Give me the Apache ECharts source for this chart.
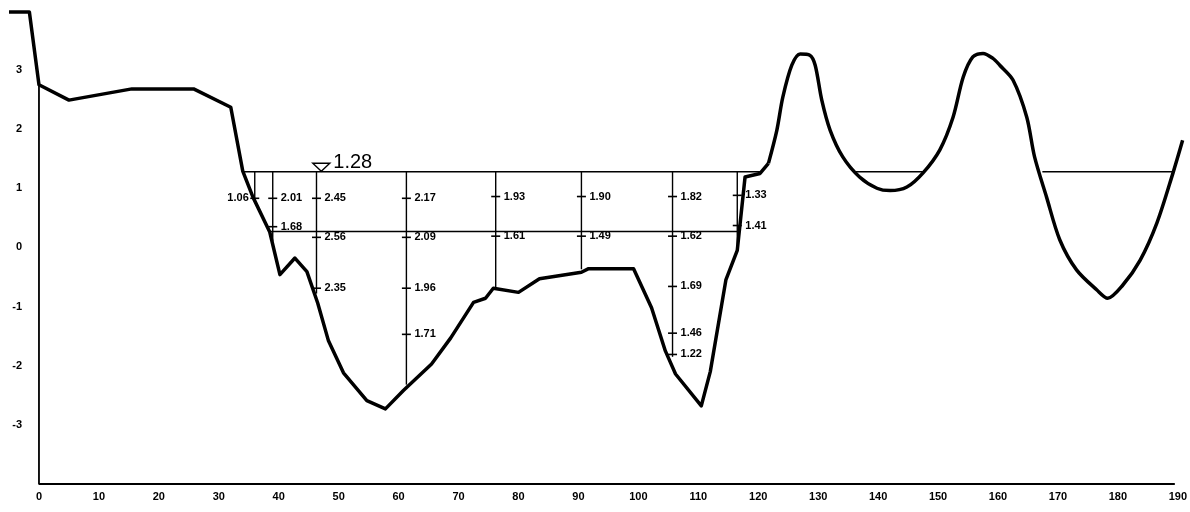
<!DOCTYPE html>
<html><head><meta charset="utf-8">
<script src="https://cdn.jsdelivr.net/npm/echarts@6/dist/echarts.min.js"></script>
<style>html,body{margin:0;padding:0;background:#fff}#c{width:1190px;height:512px}</style>
</head><body><div id="c"></div>
<script>
// ---- data ----
const xTickValues = [0,10,20,30,40,50,60,70,80,90,100,110,120,130,140,150,160,170,180,190];
const yTickValues = [-3,-2,-1,0,1,2,3];

// ground profile, straight-segment part (offset, elevation)
const profileLeft = [
  [-5,3.98],[-1.6,3.98],[0,2.75],[5,2.49],[15.5,2.68],[25.8,2.68],[32,2.37],
  [34,1.29],[35.7,0.85],[38.5,0.26],[40.2,-0.46],[42.7,-0.18],[44.7,-0.41],[46.5,-0.94],
  [48.3,-1.58],[50.8,-2.12],[54.7,-2.59],[57.8,-2.73],[60.8,-2.42],[65.5,-1.97],
  [68.7,-1.53],[72.5,-0.93],[74.5,-0.86],[75.8,-0.69],[80,-0.76],[83.5,-0.53],
  [90.5,-0.42],[91.7,-0.36],[99.2,-0.36],[102.2,-1.02],[104.5,-1.75],[106.2,-2.14],
  [110.5,-2.68],[112,-2.1],[114.6,-0.55],[116.5,-0.05],[117.8,1.19],[120.3,1.25],
  [121.7,1.42]
];
// ground profile, curved part
const profileRight = [
  [121.7,1.42],[123.1,1.98],[124.1,2.54],[125.6,3.08],[127,3.27],[128.6,3.25],[129.5,3.08],
  [130.6,2.49],[132,1.98],[134.1,1.53],[136.9,1.19],[139.8,1.0],[142,0.96],[144.8,1.02],
  [147.5,1.26],[150.3,1.65],[152.5,2.2],[154.2,2.88],[155.8,3.22],[157.5,3.28],[159.1,3.2],
  [160.3,3.08],[162.5,2.83],[164.8,2.2],[166.1,1.53],[168.1,0.85],[170.3,0.13],[173.1,-0.38],
  [176.5,-0.72],[178.3,-0.86],[180.8,-0.64],[183.7,-0.22],[186.5,0.41],[189.2,1.26],[190.8,1.81]
];

const waterLevel = 1.28;
const waterSegments = [[34.0,120.3],[136.3,147.7],[167.4,189.2]];
const lowerLineY = 0.27;
const lowerLineRange = [38.5,116.5];

const verticalX      = [36.0, 39.0, 46.3, 61.3, 76.2, 90.5, 105.7, 116.5];
const verticalBottom = [0.80, 0.10, -0.78, -2.32, -0.67, -0.37, -1.85, 0.0];

// velocity readings: [vertical index, elevation, text]
const velocityPoints = [
  [0,0.83,'1.06'],
  [1,0.83,'2.01'],[1,0.35,'1.68'],
  [2,0.83,'2.45'],[2,0.17,'2.56'],[2,-0.69,'2.35'],
  [3,0.83,'2.17'],[3,0.17,'2.09'],[3,-0.69,'1.96'],[3,-1.47,'1.71'],
  [4,0.86,'1.93'],[4,0.19,'1.61'],
  [5,0.86,'1.90'],[5,0.19,'1.49'],
  [6,0.86,'1.82'],[6,0.19,'1.62'],[6,-0.66,'1.69'],[6,-1.45,'1.46'],[6,-1.81,'1.22'],
  [7,0.88,'1.33'],[7,0.37,'1.41']
];
const markerX = 47.1;
const markerText = '1.28';
const frameLine = [[0,2.75],[0,-4],[189.5,-4]];

// ---- build ----
const segData = [];
waterSegments.forEach(s => segData.push([s[0], waterLevel, s[1], waterLevel]));
segData.push([lowerLineRange[0], lowerLineY, lowerLineRange[1], lowerLineY]);
verticalX.forEach((x, i) => segData.push([x, waterLevel, x, verticalBottom[i]]));

const tickData = velocityPoints.map(p => [verticalX[p[0]], p[1]]);

const chart = echarts.init(document.getElementById('c'), null, {renderer:'canvas'});
const smallFont = {fontFamily:'Liberation Sans', fontSize:11, fontWeight:'bold'};

chart.setOption({
  animation:false,
  backgroundColor:'#fff',
  grid:{left:9, right:6, top:10.8, bottom:28, containLabel:false},
  xAxis:{type:'value', min:-5, max:191,
    axisLine:{show:false}, axisTick:{show:false}, splitLine:{show:false},
    axisLabel:{customValues:xTickValues, color:'#000', margin:7, ...smallFont}},
  yAxis:{type:'value', min:-4, max:4, offset:-17,
    axisLine:{show:false}, axisTick:{show:false}, splitLine:{show:false},
    axisLabel:{customValues:yTickValues, color:'#000', margin:4, ...smallFont}},
  series:[
    {type:'line', data:frameLine, symbol:'none', lineStyle:{color:'#000', width:1.8}, z:2},
    {type:'custom', data:segData, z:3,
      renderItem:(params, api) => {
        const a = api.coord([api.value(0), api.value(1)]);
        const b = api.coord([api.value(2), api.value(3)]);
        return {type:'line', shape:{x1:a[0],y1:a[1],x2:b[0],y2:b[1]},
                style:{stroke:'#000', lineWidth:1.4}};
      }},
    {type:'custom', data:tickData, z:4,
      renderItem:(params, api) => {
        const p = api.coord([api.value(0), api.value(1)]);
        const item = velocityPoints[params.dataIndex];
        const left = item[0] === 0;
        return {type:'group', children:[
          {type:'line', shape:{x1:p[0]-4.5, y1:p[1], x2:p[0]+4.5, y2:p[1]},
           style:{stroke:'#000', lineWidth:1.6}},
          {type:'text', x: left ? p[0]-6 : p[0]+8, y:p[1],
           style:{text:item[2], fill:'#000', align:left?'right':'left', verticalAlign:'middle',
                  font:'bold 11px "Liberation Sans"'}}
        ]};
      }},
    {type:'custom', data:[[markerX, waterLevel]], z:5,
      renderItem:(params, api) => {
        const p = api.coord([api.value(0), api.value(1)]);
        return {type:'group', children:[
          {type:'polygon', shape:{points:[[p[0],p[1]-0.5],[p[0]-8.5,p[1]-8.5],[p[0]+8.5,p[1]-8.5]]},
           style:{fill:'#fff', stroke:'#000', lineWidth:1.4}},
          {type:'text', x:p[0]+12, y:p[1]+1,
           style:{text:markerText, fill:'#000', align:'left', verticalAlign:'bottom',
                  font:'20px "Liberation Sans"'}}
        ]};
      }},
    {type:'line', data:profileLeft, symbol:'none', smooth:false,
      lineStyle:{color:'#000', width:3.5, join:'round'}, z:6},
    {type:'line', data:profileRight, symbol:'none', smooth:0.3,
      lineStyle:{color:'#000', width:3.5}, z:6}
  ]
});
</script></body></html>
